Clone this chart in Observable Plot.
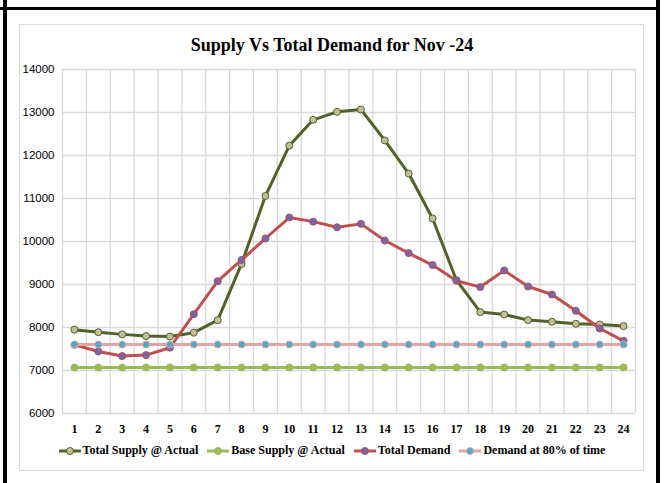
<!DOCTYPE html>
<html><head><meta charset="utf-8">
<script src="https://cdn.jsdelivr.net/npm/d3@7"></script>
<script src="https://cdn.jsdelivr.net/npm/@observablehq/plot@0.6"></script>
<style>
html,body{margin:0;padding:0;background:#fff;}
#wrap{position:relative;width:664px;height:483px;overflow:hidden;background:#fff;}
.blk{position:absolute;background:#000;}
#box{position:absolute;left:19px;top:24px;width:625px;height:447px;border:1px solid #d9d9d9;box-sizing:border-box;}
#title{position:absolute;left:0;width:664px;top:35px;text-align:center;font:bold 18px "Liberation Serif",serif;color:#000;}
#chart{position:absolute;left:0;top:0;}
#legend{position:absolute;left:0;width:664px;top:443px;display:flex;justify-content:center;gap:9px;font:bold 12px "Liberation Serif",serif;color:#000;}
.item{display:flex;align-items:center;}
.item svg{margin-right:2px;}
</style></head>
<body>
<div id="wrap">
  <div class="blk" style="left:0;top:7px;width:659px;height:3px"></div>
  <div class="blk" style="left:3px;top:0;width:4px;height:483px"></div>
  <div class="blk" style="left:656px;top:0;width:4px;height:483px"></div>
  <div id="box"></div>
  <div id="chart"></div>
  <div id="title">Supply Vs Total Demand for Nov -24</div>
  <div id="legend"></div>
</div>
<script>
const hours = [1,2,3,4,5,6,7,8,9,10,11,12,13,14,15,16,17,18,19,20,21,22,23,24];
const yTicks = [6000,7000,8000,9000,10000,11000,12000,13000,14000];
const totalSupply = [7950,7890,7840,7800,7790,7880,8170,9480,11060,12230,12830,13015,13070,12350,11580,10535,9100,8358,8303,8172,8133,8086,8070,8033];
const baseSupply = [7070,7070,7070,7070,7070,7070,7070,7070,7070,7070,7070,7070,7070,7070,7070,7070,7070,7070,7070,7070,7070,7070,7070,7070];
const totalDemand = [7598,7442,7335,7358,7530,8311,9077,9570,10070,10558,10462,10330,10410,10023,9730,9451,9088,8940,9326,8954,8767,8388,7977,7690];
const demand80 = [7605,7605,7605,7605,7605,7605,7605,7605,7605,7605,7605,7605,7605,7605,7605,7605,7605,7605,7605,7605,7605,7605,7605,7605];
const seriesNames = ["Total Supply @ Actual","Base Supply @ Actual","Total Demand","Demand at 80% of time"];

const series = [
  {name: seriesNames[0], values: totalSupply, line: "#4F6228", fill: "#C4BD97", dotStroke: "#4F6228"},
  {name: seriesNames[1], values: baseSupply, line: "#9BBB59", fill: "#9BBB59", dotStroke: "#9BBB59"},
  {name: seriesNames[2], values: totalDemand, line: "#C0504D", fill: "#8064A2", dotStroke: "#A0506A"},
  {name: seriesNames[3], values: demand80, line: "#E6A3A5", fill: "#4BACC6", dotStroke: "#E6A3A5"}
];

const gridX = hours.map(h => h - 0.5).concat([hours[hours.length-1] + 0.5]);

const marks = [
  Plot.ruleX(gridX, {stroke: "#d9d9d9", strokeWidth: 1.3}),
  Plot.ruleY(yTicks, {stroke: "#d9d9d9", strokeWidth: 1.3}),
  Plot.axisY(yTicks, {tickSize: 0, tickPadding: 8, fontFamily: "Liberation Sans", fontSize: 11.5, label: null, fill: "#000", tickFormat: d => String(d)}),
  Plot.axisX(hours, {tickSize: 0, tickPadding: 11, fontFamily: "Liberation Serif", fontWeight: "bold", fontSize: 12, label: null, tickFormat: d => String(d), fill: "#000"})
];
for (const s of series) {
  const rows = hours.map((h, i) => ({h, v: s.values[i]}));
  marks.push(Plot.line(rows, {x: "h", y: "v", stroke: s.line, strokeWidth: 3, curve: "linear"}));
  marks.push(Plot.dot(rows, {x: "h", y: "v", r: 3.5, fill: s.fill, stroke: s.dotStroke, strokeWidth: 1}));
}

const chart = Plot.plot({
  width: 664, height: 445,
  marginLeft: 62, marginRight: 29, marginTop: 69, marginBottom: 32,
  x: {domain: [0.5, 24.5]},
  y: {domain: [6000, 14000]},
  style: {background: "transparent", overflow: "visible"},
  marks
});
document.getElementById("chart").appendChild(chart);

const legend = document.getElementById("legend");
for (const s of series) {
  const item = document.createElement("div");
  item.className = "item";
  item.innerHTML = `<svg width="22" height="10"><line x1="0" y1="5" x2="22" y2="5" stroke="${s.line}" stroke-width="3"/><circle cx="11" cy="5" r="3.5" fill="${s.fill}" stroke="${s.dotStroke}"/></svg><span>${s.name}</span>`;
  legend.appendChild(item);
}
</script>
</body></html>
